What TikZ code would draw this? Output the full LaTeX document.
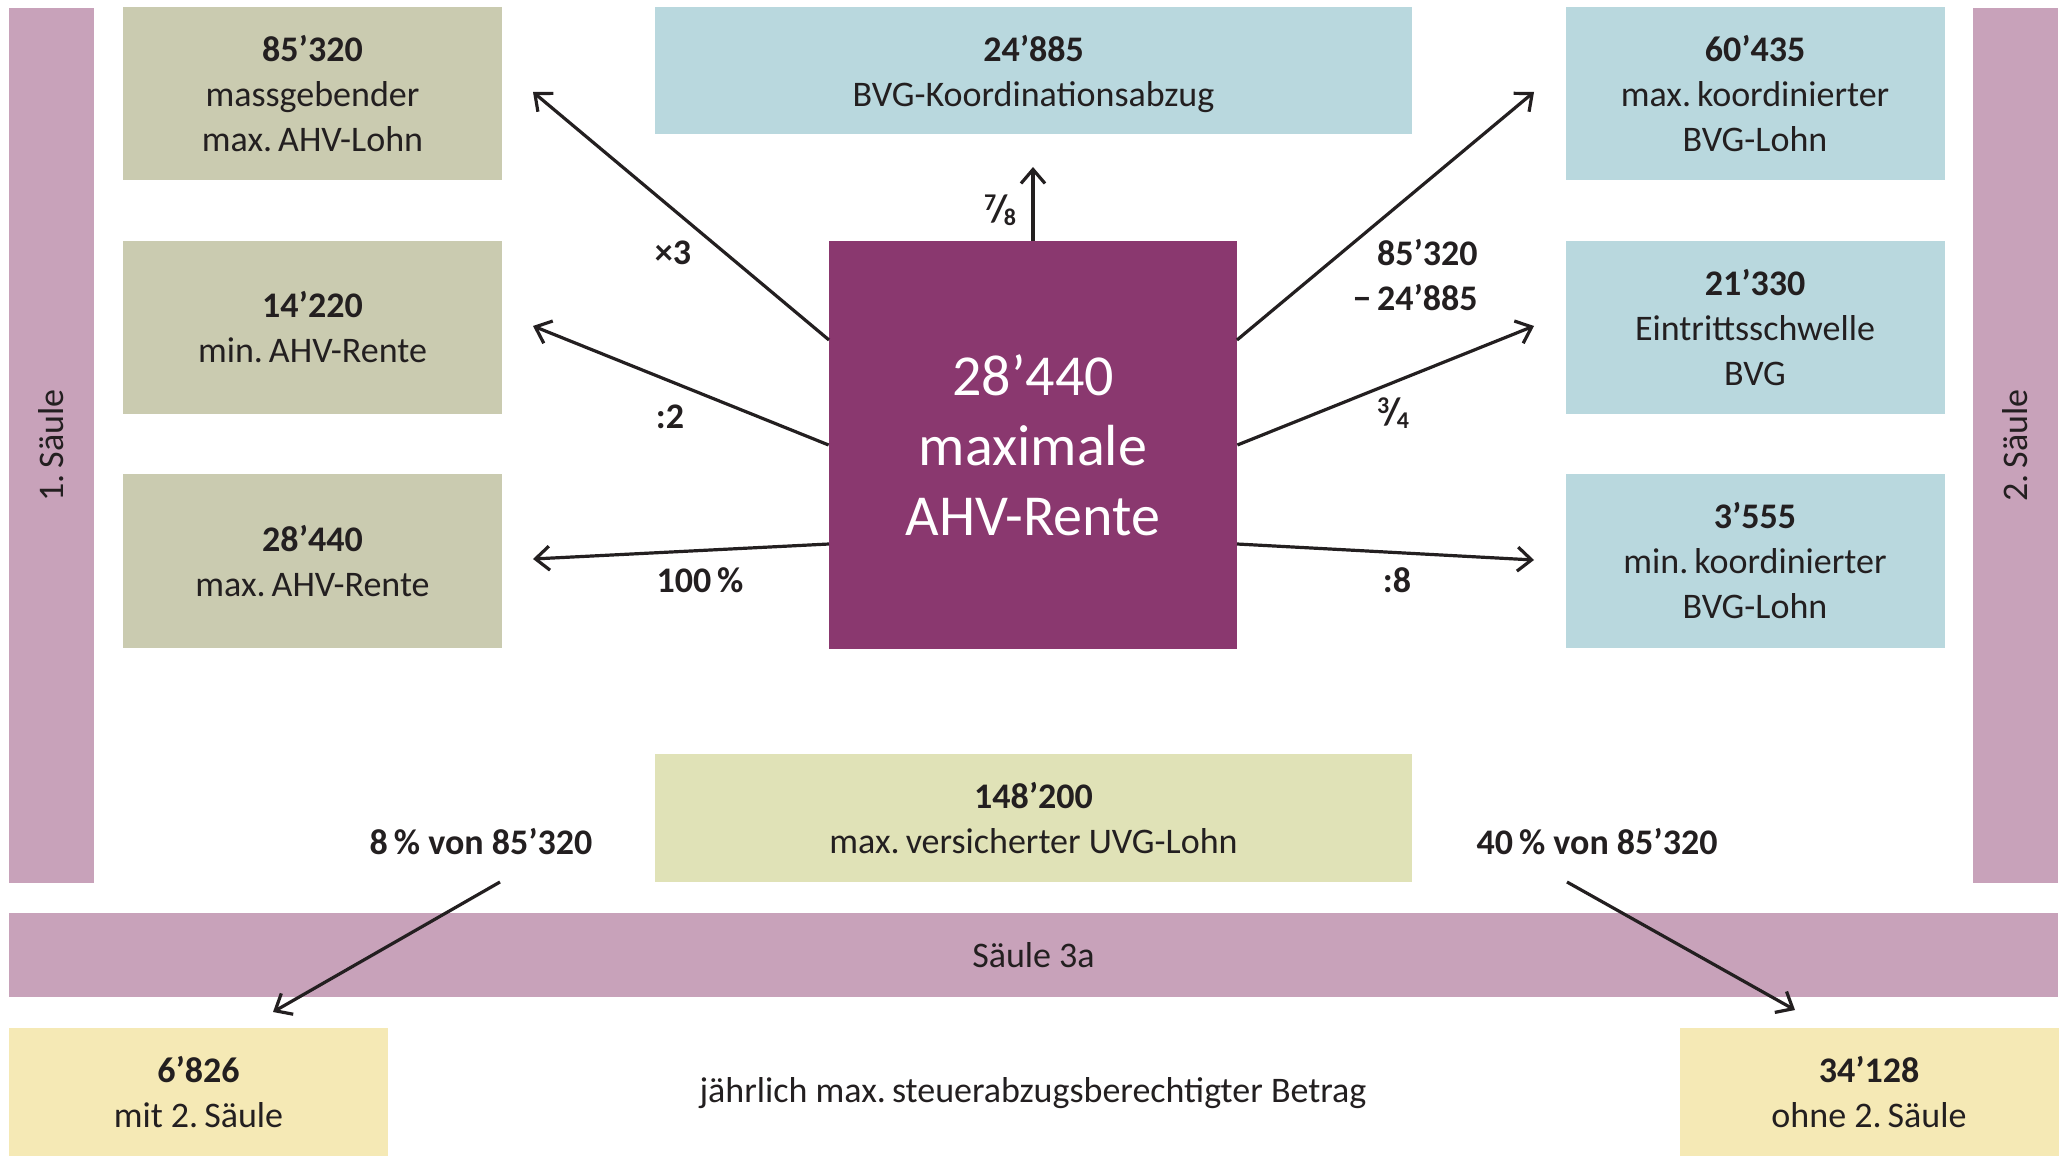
\documentclass[tikz,border=0pt]{standalone}
\usepackage{fontspec}
\setmainfont{Carlito}
\usetikzlibrary{arrows.meta}
\definecolor{saeule}{RGB}{200,162,186}
\definecolor{ahv}{RGB}{202,203,176}
\definecolor{bvg}{RGB}{185,216,222}
\definecolor{center}{RGB}{138,56,111}
\definecolor{uvg}{RGB}{224,226,183}
\definecolor{gelb}{RGB}{245,233,181}
\definecolor{ink}{RGB}{35,31,32}
\newcommand{\myfrac}[2]{\raisebox{0.3em}{\fontsize{12pt}{12pt}\selectfont\bfseries #1}\kern-0.12em{\fontsize{19pt}{19pt}\selectfont\bfseries /}\kern-0.12em\raisebox{-0.1em}{\fontsize{12pt}{12pt}\selectfont\bfseries #2}}
\tikzset{
  txt/.style={font=\fontsize{18pt}{22.5pt}\selectfont, text=ink, align=center, inner sep=0pt},
  box/.style={txt, rectangle, minimum width=189.5pt, minimum height=86.5pt},
  ahvbox/.style={box, fill=ahv},
  bvgbox/.style={box, fill=bvg},
  widebox/.style={box, minimum width=378.5pt, minimum height=63.5pt},
  smallbox/.style={box, minimum height=64pt},
  bar/.style={txt, rectangle, fill=saeule},
  lab/.style={txt, font=\fontsize{18pt}{22.5pt}\selectfont\bfseries},
  arr/.style={draw=ink, line width=1.6pt, -{Straight Barb[length=7pt,width=12pt,line width=1.6pt]}}
}
\begin{document}
\begin{tikzpicture}[x=0.5pt,y=-0.5pt]
\path[use as bounding box] (0,0) rectangle (2067,1160);
% bars
\node[bar, minimum width=42.5pt, minimum height=437.5pt] (s1) at (51.5,445.5) {};
\node[txt, rotate=90] (s1t) at (s1.center) {1.\,Säule};
\node[bar, minimum width=42.5pt, minimum height=437.5pt] (s2) at (2015.5,445.5) {};
\node[txt, rotate=90] (s2t) at (s2.center) {2.\,Säule};
\node[bar, minimum width=1024.5pt, minimum height=42pt] (s3) at (1033.5,955) {Säule 3a};
% left boxes
\node[ahvbox] (a1) at (312.5,94) {\textbf{85’320}\\massgebender\\max.\,AHV-Lohn};
\node[ahvbox] (a2) at (312.5,327.5) {\textbf{14’220}\\min.\,AHV-Rente};
\node[ahvbox] (a3) at (312.5,561) {\textbf{28’440}\\max.\,AHV-Rente};
% right boxes
\node[bvgbox] (b1) at (1755,94) {\textbf{60’435}\\max.\,koordinierter\\BVG-Lohn};
\node[bvgbox] (b2) at (1755,327.5) {\textbf{21’330}\\Eintrittsschwelle\\BVG};
\node[bvgbox] (b3) at (1755,561) {\textbf{3’555}\\min.\,koordinierter\\BVG-Lohn};
% top and UVG
\node[widebox, fill=bvg, text depth=0pt] (k) at (1033.5,70.5) {\textbf{24’885}\\BVG-Koordinationsabzug};
\node[widebox, minimum height=64pt, fill=uvg] (u) at (1033.5,818) {\textbf{148’200}\\max.\,versicherter UVG-Lohn};
% center
\node[rectangle, fill=center, minimum width=204pt, minimum height=204pt, text=white, align=center,
  font=\fontsize{29pt}{35pt}\selectfont] (c) at (1033,445) {28’440\\maximale\\AHV-Rente};
% bottom boxes
\node[smallbox, fill=gelb] (p1) at (198.5,1092) {\textbf{6’826}\\mit 2.\,Säule};
\node[smallbox, fill=gelb] (p2) at (1869,1092) {\textbf{34’128}\\ohne 2.\,Säule};
\node[txt] (j) at (1033,1093) {jährlich max.\,steuerabzugsberechtigter Betrag};
% arrow coordinates
\coordinate (cl1) at (829,340);
\coordinate (cl3) at (829,544);
\coordinate (cr1) at (1237,340);
\coordinate (cr3) at (1237,544);
\coordinate (tl1) at (533,92);
\coordinate (tl2) at (533,326);
\coordinate (tl3) at (533,559);
\coordinate (tr1) at (1534,92);
\coordinate (tr2) at (1534,326);
\coordinate (tr3) at (1534,560);
\coordinate (tu) at (1033,167);
\draw[arr] (c.north) -- (tu);
\draw[arr] (cl1) -- (tl1);
\draw[arr] (c.west) -- (tl2);
\draw[arr] (cl3) -- (tl3);
\draw[arr] (cr1) -- (tr1);
\draw[arr] (c.east) -- (tr2);
\draw[arr] (cr3) -- (tr3);
% labels
\node[lab] (l78) at (1000,210) {\myfrac{7}{8}};
\node[lab] (lx3) at (673,253) {×3};
\node[lab] (ld2) at (670,417) {:2};
\node[lab] (l100) at (700,580) {100\,\%};
\node[lab, align=right, anchor=north east] (lmin) at (1478,239) {85’320\\−\,24’885};
\node[lab] (l34) at (1393,413) {\myfrac{3}{4}};
\node[lab] (ld8) at (1397,580) {:8};
% bottom labels and arrows
\node[lab] (l8) at (481,842) {8\,\% von 85’320};
\node[lab] (l40) at (1597,842) {40\,\% von 85’320};
\coordinate (bl0) at (500,882);
\coordinate (bl1) at (273,1012);
\coordinate (br0) at (1567,882);
\coordinate (br1) at (1795,1010);
\draw[arr] (bl0) -- (bl1);
\draw[arr] (br0) -- (br1);
\end{tikzpicture}
\end{document}
